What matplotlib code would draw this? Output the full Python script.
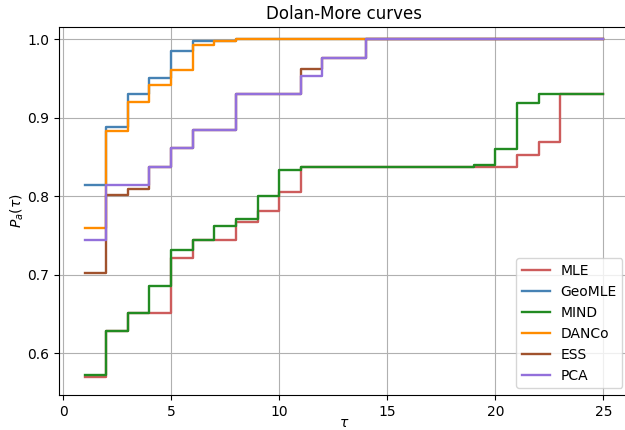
import matplotlib
matplotlib.use("Agg")
import matplotlib.pyplot as plt
import numpy as np

tau = list(range(1, 26))

mle = [0.570, 0.628, 0.651, 0.651, 0.721, 0.744, 0.744, 0.767, 0.781, 0.805,
       0.837, 0.837, 0.837, 0.837, 0.837, 0.837, 0.837, 0.837, 0.837, 0.837,
       0.853, 0.869, 0.930, 0.930, 0.930]
geomle = [0.814, 0.888, 0.930, 0.951, 0.985, 0.997, 0.997, 1.0, 1.0, 1.0,
          1.0, 1.0, 1.0, 1.0, 1.0, 1.0, 1.0, 1.0, 1.0, 1.0,
          1.0, 1.0, 1.0, 1.0, 1.0]
mind = [0.572, 0.628, 0.651, 0.686, 0.732, 0.744, 0.762, 0.771, 0.800, 0.833,
        0.837, 0.837, 0.837, 0.837, 0.837, 0.837, 0.837, 0.837, 0.840, 0.860,
        0.919, 0.930, 0.930, 0.930, 0.930]
danco = [0.760, 0.883, 0.920, 0.941, 0.960, 0.993, 0.997, 1.0, 1.0, 1.0,
         1.0, 1.0, 1.0, 1.0, 1.0, 1.0, 1.0, 1.0, 1.0, 1.0,
         1.0, 1.0, 1.0, 1.0, 1.0]
ess = [0.702, 0.802, 0.809, 0.837, 0.861, 0.884, 0.884, 0.930, 0.930, 0.930,
       0.962, 0.976, 0.976, 1.0, 1.0, 1.0, 1.0, 1.0, 1.0, 1.0,
       1.0, 1.0, 1.0, 1.0, 1.0]
pca = [0.744, 0.814, 0.814, 0.837, 0.861, 0.884, 0.884, 0.930, 0.930, 0.930,
       0.953, 0.976, 0.976, 1.0, 1.0, 1.0, 1.0, 1.0, 1.0, 1.0,
       1.0, 1.0, 1.0, 1.0, 1.0]

series = [("MLE", mle, "#cd5c5c"),
          ("GeoMLE", geomle, "#4682b4"),
          ("MIND", mind, "#228b22"),
          ("DANCo", danco, "#ff8c00"),
          ("ESS", ess, "#a0522d"),
          ("PCA", pca, "#9370db")]

fig = plt.figure(figsize=(6.25, 4.30), dpi=100)
W, H = 625, 430
l, r, t, b = 58.7, 629.4, 27, 395
ax = fig.add_axes([l / W, (H - b) / H, (r - l) / W, (b - t) / H])

for name, vals, col in series:
    ax.step(tau, vals, where="post", color=col, lw=1.7, label=name)

ax.set_xlim(-0.2, 26.2)
ax.set_ylim(0.547, 1.0153)
ax.set_xticks([0, 5, 10, 15, 20, 25])
ax.set_yticks([0.6, 0.7, 0.8, 0.9, 1.0])
ax.grid(True, color="#b0b0b0", lw=0.8)
ax.set_title("Dolan-More curves", fontsize=12)
ax.set_xlabel(r"$\tau$", labelpad=-2)
ax.set_ylabel(r"$P_a(\tau)$", labelpad=1)
ax.legend(loc="lower right")

fig.savefig("out.png", dpi=100)
